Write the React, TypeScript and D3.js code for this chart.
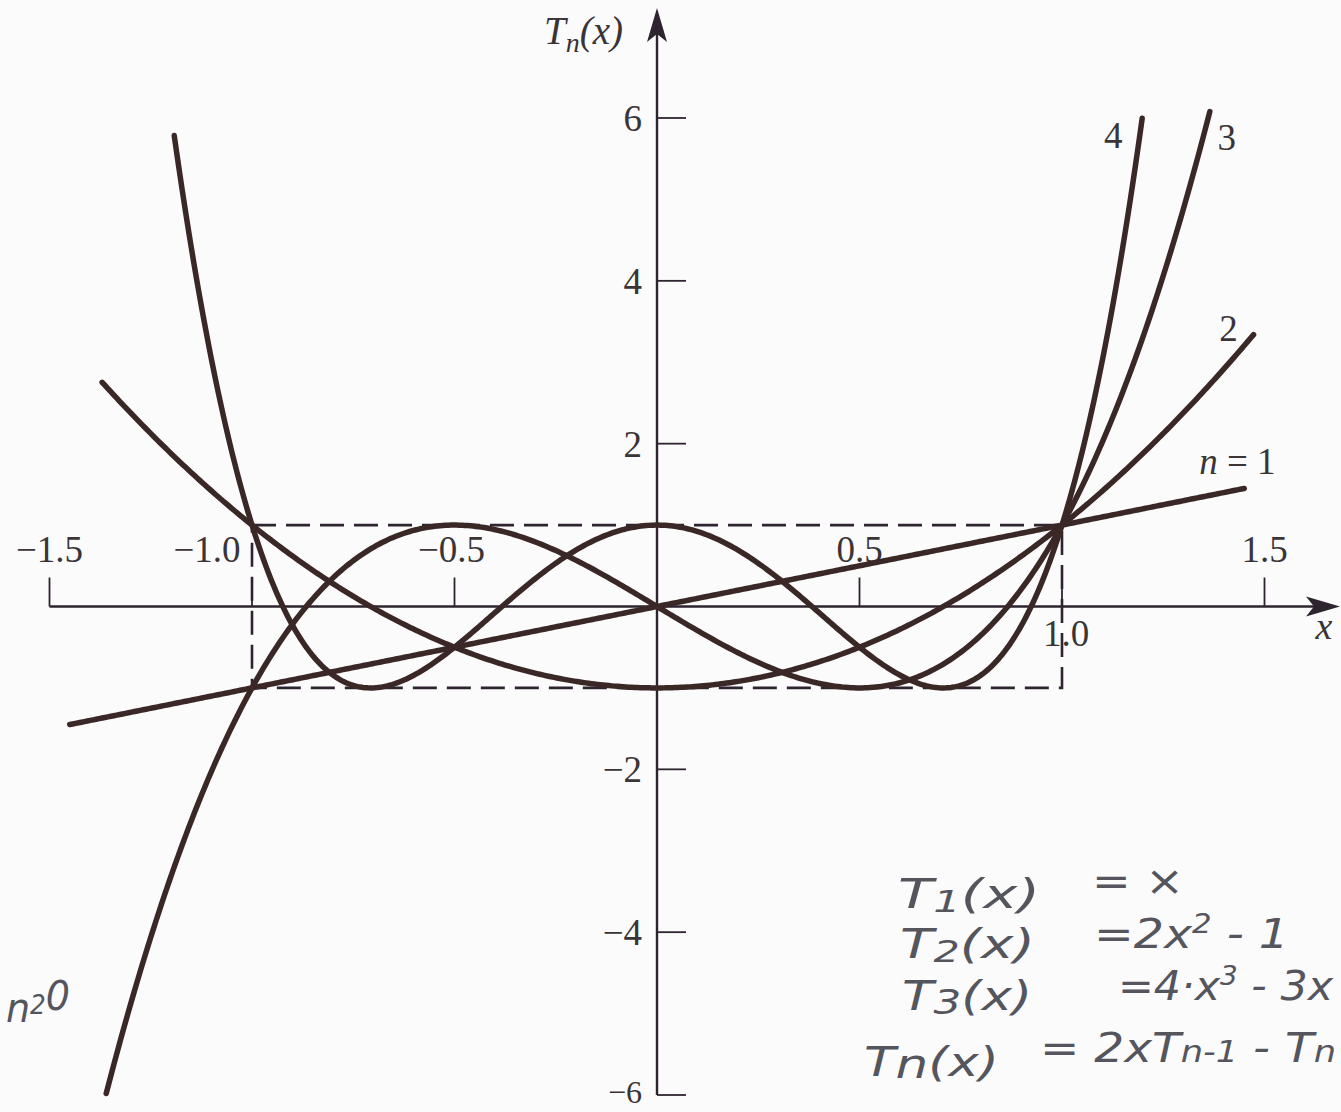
import React from "react";
import * as d3 from "d3";

// ---- data ----
const seriesOrders = [1, 2, 3, 4];
// polynomial coefficients, lowest power first: T1 = x, T2 = 2x^2-1, T3 = 4x^3-3x, T4 = 8x^4-8x^2+1
const coefficients = [
  [0, 1],
  [-1, 0, 2],
  [0, -3, 0, 4],
  [1, 0, -8, 0, 8],
];
const domainStart = [-1.45, -1.37, -1.36, -1.192];
const domainEnd = [1.45, 1.473, 1.365, 1.198];
const curveLabels = ["n = 1", "2", "3", "4"];

const xTicks = [-1.5, -1.0, -0.5, 0.5, 1.0, 1.5];
const xTickLabels = ["\u22121.5", "\u22121.0", "\u22120.5", "0.5", "1.0", "1.5"];
const yTicks = [-6, -4, -2, 2, 4, 6];
const yTickLabels = ["\u22126", "\u22124", "\u22122", "2", "4", "6"];
const boxX = [-1, 1];
const boxY = [-1, 1];

// ---- layout / style ----
const W = 1341;
const H = 1112;
const INK = "#3a2826";
const AXIS = "#2e2430";
const TEXT = "#3a3436";
const HAND = "#55555e";
const SERIF = "'Liberation Serif', 'DejaVu Serif', serif";
const HANDFONT = "'DejaVu Sans', sans-serif";

const labelOffsets = [
  { dx: -45, dy: -14, anchor: "start" },
  { dx: -25, dy: 6, anchor: "middle" },
  { dx: 17, dy: 38, anchor: "middle" },
  { dx: -29, dy: 30, anchor: "middle" },
];

function evalPoly(c: number[], x: number) {
  let s = 0;
  for (let i = c.length - 1; i >= 0; i--) s = s * x + c[i];
  return s;
}

export default function App() {
  const x = d3.scaleLinear().domain([-1.5, 1.5]).range([49.5, 1264.5]);
  const y = d3.scaleLinear().domain([-6, 6]).range([1095, 118]);
  const x0 = x(0);
  const y0 = y(0);

  const line = d3
    .line<[number, number]>()
    .x((d) => x(d[0]))
    .y((d) => y(d[1]))
    .curve(d3.curveLinear);

  const curves = seriesOrders.map((n, i) => {
    const a = domainStart[i];
    const b = domainEnd[i];
    const pts: [number, number][] = d3
      .range(0, 401)
      .map((k) => a + ((b - a) * k) / 400)
      .map((v) => [v, evalPoly(coefficients[i], v)]);
    return { n, d: line(pts) as string, end: pts[pts.length - 1] };
  });

  const handLine = (
    xx: number,
    yy: number,
    width: number,
    txt: React.ReactNode,
    size = 40
  ) => (
    <text
      x={xx}
      y={yy}
      fontFamily={HANDFONT}
      fontStyle="italic"
      fontWeight={200}
      fontSize={size}
      textLength={width}
      lengthAdjust="spacingAndGlyphs"
      fill={HAND}
    >
      {txt}
    </text>
  );

  return (
    <svg
      width={W}
      height={H}
      viewBox={`0 0 ${W} ${H}`}
      style={{ position: "absolute", left: 0, top: 0, display: "block" }}
    >
      <rect x={0} y={0} width={W} height={H} fill="#fbfbfb" />

      {/* dashed box |x|<=1, |T|<=1 */}
      <rect
        x={x(boxX[0])}
        y={y(boxY[1])}
        width={x(boxX[1]) - x(boxX[0])}
        height={y(boxY[0]) - y(boxY[1])}
        fill="none"
        stroke={AXIS}
        strokeWidth={2.6}
        strokeDasharray="24 10"
      />

      {/* x axis */}
      <line x1={x(-1.5)} x2={1320} y1={y0} y2={y0} stroke={AXIS} strokeWidth={2.4} />
      <path
        d={`M1340,${y0} L1306,${y0 - 10} L1314,${y0} L1306,${y0 + 10} Z`}
        fill={AXIS}
      />
      {xTicks.map((t) => (
        <line
          key={"xt" + t}
          x1={x(t)}
          x2={x(t)}
          y1={y0}
          y2={y0 - 29}
          stroke={AXIS}
          strokeWidth={1.8}
        />
      ))}
      {xTicks.map((t, i) => {
        const below = t === 1.0;
        const shift = t === -1.0 ? -45 : t === 1.0 ? 4 : t === -0.5 ? -3 : 0;
        return (
          <text
            key={"xl" + t}
            x={x(t) + shift}
            y={below ? y0 + 39 : y0 - 45}
            textAnchor="middle"
            fontFamily={SERIF}
            fontSize={37}
            fill={TEXT}
          >
            {xTickLabels[i]}
          </text>
        );
      })}
      <text
        x={1324}
        y={y0 + 32}
        textAnchor="middle"
        fontFamily={SERIF}
        fontStyle="italic"
        fontSize={38}
        fill={TEXT}
      >
        x
      </text>

      {/* y axis */}
      <line x1={x0} x2={x0} y1={y(-6)} y2={30} stroke={AXIS} strokeWidth={2.4} />
      <path
        d={`M${x0},8 L${x0 - 10},42 L${x0},34 L${x0 + 10},42 Z`}
        fill={AXIS}
      />
      {yTicks.map((t) => (
        <line
          key={"yt" + t}
          x1={x0}
          x2={x0 + 29}
          y1={y(t)}
          y2={y(t)}
          stroke={AXIS}
          strokeWidth={1.8}
        />
      ))}
      {yTicks.map((t, i) => (
        <text
          key={"yl" + t}
          x={x0 - 15}
          y={t === -6 ? 1103 : y(t) + 13}
          textAnchor="end"
          fontFamily={SERIF}
          fontSize={t === -6 ? 32 : 37}
          fill={TEXT}
        >
          {yTickLabels[i]}
        </text>
      ))}
      <text x={544} y={44} fontFamily={SERIF} fontStyle="italic" fontSize={39} fill={TEXT}>
        T
        <tspan fontSize={28} dy={8}>
          n
        </tspan>
        <tspan fontSize={39} dy={-8}>
          (x)
        </tspan>
      </text>

      {/* Chebyshev curves */}
      {curves.map((c) => (
        <path
          key={"c" + c.n}
          d={c.d}
          fill="none"
          stroke={INK}
          strokeWidth={5.5}
          strokeLinejoin="round"
          strokeLinecap="round"
        />
      ))}
      {curves.map((c, i) => (
        <text
          key={"cl" + c.n}
          x={x(c.end[0]) + labelOffsets[i].dx}
          y={y(c.end[1]) + labelOffsets[i].dy}
          textAnchor={labelOffsets[i].anchor as any}
          fontFamily={SERIF}
          fontSize={37}
          fill={TEXT}
        >
          {i === 0 ? (
            <>
              <tspan fontStyle="italic">n</tspan>
              <tspan> = 1</tspan>
            </>
          ) : (
            curveLabels[i]
          )}
        </text>
      ))}

      {/* handwritten notes */}
      {handLine(898, 908, 142, <>T<tspan fontSize={30} dy={4}>1</tspan><tspan dy={-4}>(x)</tspan></>)}
      {handLine(1092, 895, 92, "=  ×")}
      {handLine(900, 958, 135, <>T<tspan fontSize={30} dy={4}>2</tspan><tspan dy={-4}>(x)</tspan></>)}
      {handLine(1094, 948, 195, <>=2x<tspan fontSize={26} dy={-15}>2</tspan><tspan dy={15}> - 1</tspan></>)}
      {handLine(902, 1010, 130, <>T<tspan fontSize={34} dy={4}>3</tspan><tspan dy={-4}>(x)</tspan></>)}
      {handLine(1118, 1000, 215, <>=4·x<tspan fontSize={26} dy={-15}>3</tspan><tspan dy={15}> - 3x</tspan></>)}
      {handLine(864, 1076, 135, <>T<tspan dy={2}>n</tspan><tspan dy={-2}>(x)</tspan></>)}
      {handLine(1040, 1062, 296, <>= 2xT<tspan fontSize={30}>n-1</tspan><tspan> - T</tspan><tspan fontSize={30}>n</tspan></>)}
      {handLine(6, 1022, 64, <>n<tspan fontSize={26} dy={-8}>2</tspan><tspan fontSize={40} dy={-4}>0</tspan></>)}
    </svg>
  );
}
